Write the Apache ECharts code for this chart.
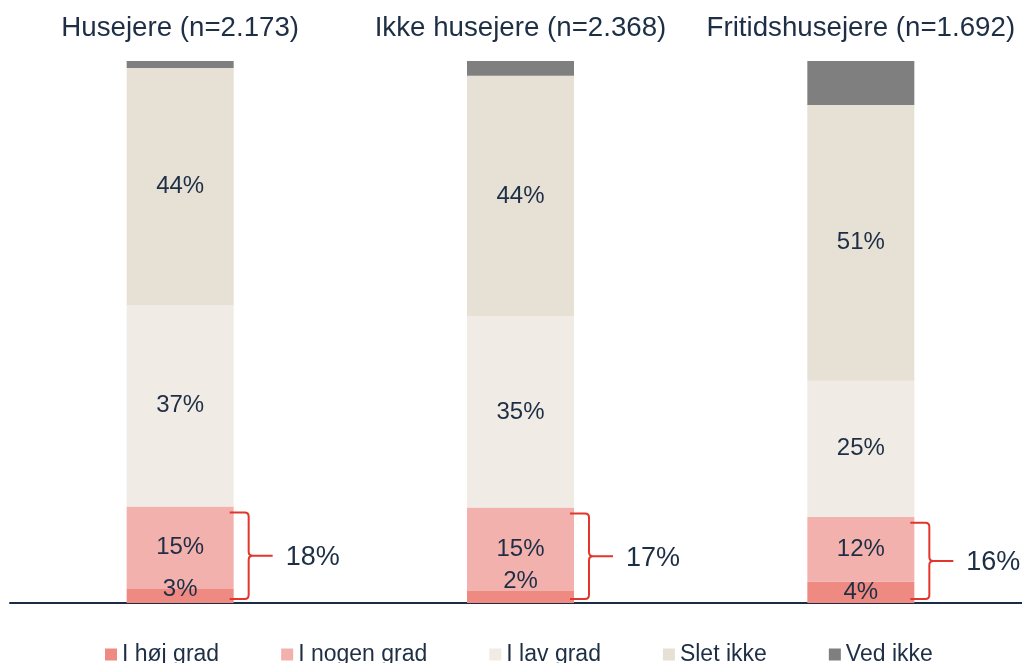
<!DOCTYPE html>
<html>
<head>
<meta charset="utf-8">
<title>Husejere</title>
<script src="https://cdn.jsdelivr.net/npm/echarts@6.0.0/dist/echarts.min.js"></script>
<style>
    html, body { margin: 0; padding: 0; background: #fff; }
    #chart { width: 1022px; height: 663px; }
</style>
</head>
<body>
<div id="chart"></div>
<script>
    // grupper (n = antal svar)
    const categories = ['Husejere (n=2.173)', 'Ikke husejere (n=2.368)', 'Fritidshusejere (n=1.692)'];

    // andele i procent
    const hoejGrad  = [2.6, 2.2, 3.9];
    const nogenGrad = [15.2, 15.4, 12.0];
    const lavGrad   = [37.2, 35.3, 25.1];
    const sletIkke  = [43.7, 44.4, 50.9];
    const vedIkke   = [1.3, 2.7, 8.1];

    const seriesNames = ['I høj grad', 'I nogen grad', 'I lav grad', 'Slet ikke', 'Ved ikke'];

    const textColor = '#1d2e45';
    const fontFamily = '"Liberation Sans", Arial, Helvetica, sans-serif';
    const barWidth = 107;

    let chart = echarts.init(document.getElementById('chart'));

    function pct(p) {
        return Math.round(p.value) + '%';
    }

    function barSeries(name, data, color, showLabel) {
        return {
            name: name,
            type: 'bar',
            stack: 'total',
            barWidth: barWidth,
            data: data,
            itemStyle: { color: color },
            label: {
                show: showLabel,
                position: 'inside',
                formatter: pct,
                color: textColor,
                fontSize: 24,
                fontFamily: fontFamily
            }
        };
    }

    // høj grad-labels er skubbet lidt op så de ikke rammer aksen
    let hoejSeries = barSeries(seriesNames[0], hoejGrad.map(function (v, i) {
        return { value: v, label: { offset: [0, [-7, -16, 0][i]] } };
    }), '#ee8a82', true);

    // klamme til højre for søjlen: høj grad + nogen grad
    let braceData = hoejGrad.map(function (v, i) {
        return [i, v + nogenGrad[i], Math.round(v) + Math.round(nogenGrad[i])];
    });

    let braceSeries = {
        type: 'custom',
        silent: true,
        z: 5,
        data: braceData,
        renderItem: function (params, api) {
            let top = api.coord([api.value(0), api.value(1)]);
            let base = api.coord([api.value(0), 0]);
            let xl = top[0] + barWidth / 2 - 4;
            let xv = top[0] + barWidth / 2 + 15;
            let yt = top[1] + 6;
            let yb = base[1] - 4;
            let ym = (yt + yb) / 2;
            let r = 4;
            let d = 'M' + xl + ',' + yt + ' L' + (xv - r) + ',' + yt +
                ' Q' + xv + ',' + yt + ' ' + xv + ',' + (yt + r) +
                ' L' + xv + ',' + (ym - r) +
                ' Q' + xv + ',' + ym + ' ' + (xv + r) + ',' + ym +
                ' Q' + xv + ',' + ym + ' ' + xv + ',' + (ym + r) +
                ' L' + xv + ',' + (yb - r) +
                ' Q' + xv + ',' + yb + ' ' + (xv - r) + ',' + yb +
                ' L' + xl + ',' + yb +
                ' M' + (xv + r) + ',' + ym + ' L' + (xv + 24) + ',' + ym;
            return {
                type: 'group',
                children: [
                    {
                        type: 'path',
                        shape: { pathData: d },
                        style: { stroke: '#e2362c', lineWidth: 2, fill: null }
                    },
                    {
                        type: 'text',
                        x: xv + 37,
                        y: ym + 2,
                        style: {
                            text: api.value(2) + '%',
                            fill: textColor,
                            fontSize: 27,
                            fontFamily: fontFamily,
                            align: 'left',
                            verticalAlign: 'middle'
                        }
                    }
                ]
            };
        }
    };

    let option = {
        animation: false,
        textStyle: { fontFamily: fontFamily },
        legend: {
            data: seriesNames,
            left: 100,
            top: 638,
            icon: 'rect',
            itemWidth: 12,
            itemHeight: 12,
            itemGap: 62,
            itemStyle: { borderWidth: 0 },
            textStyle: { color: textColor, fontSize: 23, fontFamily: fontFamily }
        },
        grid: {
            left: 10,
            width: 1021,
            top: 61,
            bottom: 60,
            containLabel: false,
            outerBoundsMode: 'none'
        },
        xAxis: [
            {
                type: 'category',
                data: categories,
                position: 'bottom',
                axisLine: { lineStyle: { color: '#1b2d45', width: 2 } },
                axisTick: { show: false },
                axisLabel: { show: false }
            },
            {
                type: 'category',
                data: categories,
                position: 'top',
                axisLine: { show: false },
                axisTick: { show: false },
                axisLabel: {
                    color: textColor,
                    fontSize: 27.7,
                    fontFamily: fontFamily,
                    margin: 19,
                    interval: 0
                }
            }
        ],
        yAxis: {
            type: 'value',
            min: 0,
            max: 100,
            show: false
        },
        series: [
            hoejSeries,
            barSeries(seriesNames[1], nogenGrad, '#f2b1ad', true),
            barSeries(seriesNames[2], lavGrad, '#f0ebe4', true),
            barSeries(seriesNames[3], sletIkke, '#e6e0d5', true),
            barSeries(seriesNames[4], vedIkke, '#7f7f7f', false),
            braceSeries
        ]
    };

    chart.setOption(option, true);
    window.addEventListener('resize', function () {
        chart.resize();
    });
</script>
</body>
</html>
